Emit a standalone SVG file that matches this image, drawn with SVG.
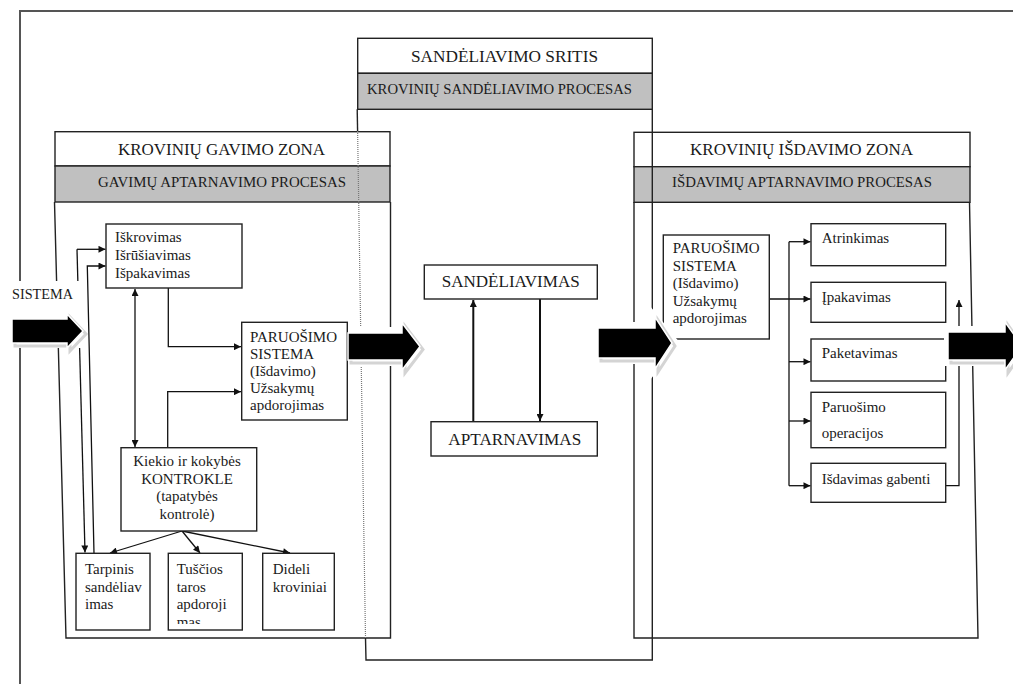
<svg xmlns="http://www.w3.org/2000/svg" width="1013" height="684" viewBox="0 0 1013 684">
  <style>
    .frame { fill: none; stroke: #555; stroke-width: 2; }
    .hdr { fill: #fff; stroke: #222; stroke-width: 1.4; }
    .band { fill: #c0c0c0; stroke: #222; stroke-width: 1.4; }
    .edge { fill: none; stroke: #222; stroke-width: 1.4; }
    .dotted { fill: none; stroke: #777; stroke-width: 1.2; stroke-dasharray: 1 1; }
    .box { fill: #fff; stroke: #222; stroke-width: 1.4; }
    .t { font-family: "Liberation Serif", "Times New Roman", serif; fill: #1a1a1a; }
    .h1 { font-size: 17px; }
    .h2 { font-size: 15.5px; }
    .s { font-size: 15px; }
    .c { fill: none; stroke: #111; stroke-width: 1.3; }
    .cw { fill: none; stroke: #111; stroke-width: 2; }
    .halo { fill: #fff; }
    .shade { fill: none; stroke: #d4d4d4; stroke-width: 3; stroke-linejoin: miter; }
    .big { fill: #000; stroke: #fff; stroke-width: 1.5; stroke-linejoin: miter; }
  </style>
  <defs>
    <marker id="ah" viewBox="0 0 10 10" refX="10" refY="5" markerUnits="userSpaceOnUse" markerWidth="8" markerHeight="7" orient="auto-start-reverse">
      <path d="M0,0 L10,5 L0,10 Z" fill="#111"/>
    </marker>
    <clipPath id="clipTara">
      <rect x="168" y="553" width="75" height="71"/>
    </clipPath>
  </defs>

  <!-- outer page frame -->
  <path class="frame" d="M20,684 V11 H1013"/>

  <!-- receiving zone -->
  <g id="zone-receiving">
    <rect class="hdr" x="55" y="131.7" width="335" height="34.3"/>
    <rect class="band" x="55" y="166" width="335" height="36"/>
    <path class="edge" d="M54.5,202 L66,638 H390.5 V202"/>
    <text class="t h1" x="118" y="155" textLength="207" lengthAdjust="spacingAndGlyphs">KROVINIŲ GAVIMO ZONA</text>
    <text class="t h2" x="98" y="187" textLength="248" lengthAdjust="spacingAndGlyphs">GAVIMŲ APTARNAVIMO PROCESAS</text>
  </g>

  <!-- dispatch zone -->
  <g id="zone-dispatch">
    <rect class="hdr" x="634" y="132.3" width="336" height="34.4"/>
    <rect class="band" x="634" y="166.7" width="336" height="35.6"/>
    <path class="edge" d="M634,202 V638 H978 L969.5,202"/>
    <text class="t h1" x="690" y="155" textLength="223" lengthAdjust="spacingAndGlyphs">KROVINIŲ IŠDAVIMO ZONA</text>
    <text class="t h2" x="672" y="187" textLength="260" lengthAdjust="spacingAndGlyphs">IŠDAVIMŲ APTARNAVIMO PROCESAS</text>
  </g>

  <!-- storage area -->
  <g id="zone-storage">
    <rect class="hdr" x="357.7" y="38.3" width="294.6" height="35"/>
    <rect class="band" x="357.7" y="73.3" width="294.6" height="36"/>
    <text class="t h1" x="411" y="62" textLength="187" lengthAdjust="spacingAndGlyphs">SANDĖLIAVIMO SRITIS</text>
    <text class="t h2" x="367" y="93.5" textLength="265" lengthAdjust="spacingAndGlyphs">KROVINIŲ SANDĖLIAVIMO PROCESAS</text>
    <path class="edge" d="M357.2,109.3 L357.6,131"/>
    <path class="dotted" d="M357.6,131 L365.5,638"/>
    <path class="edge" d="M365.5,638 L366,660 H652.3 V109.3"/>
  </g>

  <!-- connectors -->
  <g id="connectors">
    <path class="c" d="M77,249.3 H105.5" marker-end="url(#ah)"/>
    <path class="c" d="M77,249.3 L85,552.5" marker-end="url(#ah)"/>
    <path class="c" d="M94,553.3 L87.3,266 H105.5" marker-end="url(#ah)"/>
    <path class="c" d="M135,289 V447" marker-start="url(#ah)" marker-end="url(#ah)"/>
    <path class="c" d="M168.3,288 V346.7 H241" marker-end="url(#ah)"/>
    <path class="c" d="M167.7,447.7 V391.7 H241" marker-end="url(#ah)"/>
    <path class="c" d="M182,531 L110,553" marker-end="url(#ah)"/>
    <path class="c" d="M182,531 L200,553" marker-end="url(#ah)"/>
    <path class="c" d="M182,531 L290,553" marker-end="url(#ah)"/>

    <path class="cw" d="M473.3,421.7 V300" marker-end="url(#ah)"/>
    <path class="cw" d="M540,299 V421" marker-end="url(#ah)"/>

    <path class="c" d="M769.3,299 H810.5" marker-end="url(#ah)"/>
    <path class="c" d="M789,241.7 V485.7"/>
    <path class="c" d="M789,241.7 H810.5" marker-end="url(#ah)"/>
    <path class="c" d="M789,361.7 H810.5" marker-end="url(#ah)"/>
    <path class="c" d="M789,421 H810.5" marker-end="url(#ah)"/>
    <path class="c" d="M789,485.7 H810.5" marker-end="url(#ah)"/>
    <path class="c" d="M945.7,485.7 H959 V300" marker-end="url(#ah)"/>
  </g>

  <!-- receiving zone nodes -->
  <g id="unloading">
    <rect class="box" x="106" y="224" width="136" height="64"/>
    <text class="t s" x="115" y="242">Iškrovimas</text>
    <text class="t s" x="115" y="260">Išrūšiavimas</text>
    <text class="t s" x="115" y="278">Išpakavimas</text>
  </g>
  <g id="prep-receiving">
    <rect class="box" x="241.7" y="322.3" width="105.6" height="97.7"/>
    <text class="t s" x="250" y="341.7">PARUOŠIMO</text>
    <text class="t s" x="250" y="358.5">SISTEMA</text>
    <text class="t s" x="250" y="376">(Išdavimo)</text>
    <text class="t s" x="250" y="393">Užsakymų</text>
    <text class="t s" x="250" y="410">apdorojimas</text>
  </g>
  <g id="quality-control">
    <rect class="box" x="121" y="447.7" width="135.7" height="83.3"/>
    <text class="t s" x="187" y="466" text-anchor="middle">Kiekio ir kokybės</text>
    <text class="t s" x="187" y="483.5" text-anchor="middle">KONTROKLE</text>
    <text class="t s" x="187" y="501" text-anchor="middle">(tapatybės</text>
    <text class="t s" x="187" y="519" text-anchor="middle">kontrolė)</text>
  </g>
  <g id="buffer-storage">
    <rect class="box" x="76" y="553.3" width="74" height="76.7"/>
    <text class="t s" x="85" y="574">Tarpinis</text>
    <text class="t s" x="85" y="591.7">sandėliav</text>
    <text class="t s" x="85" y="609">imas</text>
  </g>
  <g id="empty-containers">
    <rect class="box" x="168.3" y="553.3" width="74" height="76.7"/>
    <g clip-path="url(#clipTara)">
      <text class="t s" x="176.7" y="574">Tuščios</text>
      <text class="t s" x="176.7" y="591.7">taros</text>
      <text class="t s" x="176.7" y="609">apdoroji</text>
      <text class="t s" x="176.7" y="627">mas</text>
    </g>
  </g>
  <g id="large-cargo">
    <rect class="box" x="262.7" y="553.3" width="71.6" height="76.7"/>
    <text class="t s" x="272.7" y="574">Dideli</text>
    <text class="t s" x="272.7" y="591.7">kroviniai</text>
  </g>

  <!-- storage area nodes -->
  <g id="storing">
    <rect class="box" x="424.3" y="265" width="173" height="34"/>
    <text class="t h1" x="441.7" y="287" textLength="138" lengthAdjust="spacingAndGlyphs">SANDĖLIAVIMAS</text>
  </g>
  <g id="servicing">
    <rect class="box" x="431" y="421.7" width="166.3" height="34.3"/>
    <text class="t h1" x="448.3" y="444.5" textLength="133" lengthAdjust="spacingAndGlyphs">APTARNAVIMAS</text>
  </g>

  <!-- dispatch zone nodes -->
  <g id="prep-dispatch">
    <rect class="box" x="663.3" y="235" width="106" height="104"/>
    <text class="t s" x="672.7" y="253.3">PARUOŠIMO</text>
    <text class="t s" x="672.7" y="270.5">SISTEMA</text>
    <text class="t s" x="672.7" y="288.3">(Išdavimo)</text>
    <text class="t s" x="672.7" y="305.5">Užsakymų</text>
    <text class="t s" x="672.7" y="323.3">apdorojimas</text>
  </g>
  <g id="picking">
    <rect class="box" x="811" y="223.7" width="134.7" height="42"/>
    <text class="t s" x="821.7" y="243.3">Atrinkimas</text>
  </g>
  <g id="packing">
    <rect class="box" x="811" y="282.3" width="134.7" height="40"/>
    <text class="t s" x="821.7" y="301.7">Įpakavimas</text>
  </g>
  <g id="palletising">
    <rect class="box" x="811" y="339" width="134.7" height="42"/>
    <text class="t s" x="821.7" y="358.3">Paketavimas</text>
  </g>
  <g id="prep-operations">
    <rect class="box" x="811" y="392.3" width="134.7" height="55.4"/>
    <text class="t s" x="821.7" y="411.7">Paruošimo</text>
    <text class="t s" x="821.7" y="438.3">operacijos</text>
  </g>
  <g id="shipping">
    <rect class="box" x="811" y="463.3" width="134.7" height="39"/>
    <text class="t s" x="821.7" y="484">Išdavimas gabenti</text>
  </g>

  <!-- block flow arrows -->
  <g id="flow-storage">
    <path class="halo" d="M350,327 H397 V313 L428,346.5 L397,380 V366 H350 Z"/>
    <path class="shade" transform="translate(3,3)" d="M348,333 H402 V323 L420,346.5 L402,370 V360 H348 Z"/>
    <path class="big" d="M348,333 H402 V323 L420,346.5 L402,370 V360 H348 Z"/>
  </g>
  <g id="flow-dispatch">
    <path class="halo" d="M594,322 H650 V306 L680,343 L650,380 V364 H594 Z"/>
    <path class="shade" transform="translate(3,3)" d="M598,328 H655 V317 L672,343 L655,369 V358 H598 Z"/>
    <path class="big" d="M598,328 H655 V317 L672,343 L655,369 V358 H598 Z"/>
  </g>
  <g id="flow-out">
    <path class="halo" d="M944,326 H1000 V310 L1030,346 L1000,382 V366 H944 Z"/>
    <path class="shade" transform="translate(3,3)" d="M948,332 H1005 V322 L1022,346 L1005,370 V360 H948 Z"/>
    <path class="big" d="M948,332 H1005 V322 L1022,346 L1005,370 V360 H948 Z"/>
  </g>
  <g id="system-in">
    <rect class="halo" x="8" y="281" width="74" height="67"/>
    <text class="t h2" x="12" y="299" textLength="61" lengthAdjust="spacingAndGlyphs">SISTEMA</text>
    <path class="shade" transform="translate(3,3)" d="M12,319 H67 V314 L83,331 L67,348 V343 H12 Z"/>
    <path class="big" d="M12,319 H67 V314 L83,331 L67,348 V343 H12 Z"/>
  </g>
</svg>
